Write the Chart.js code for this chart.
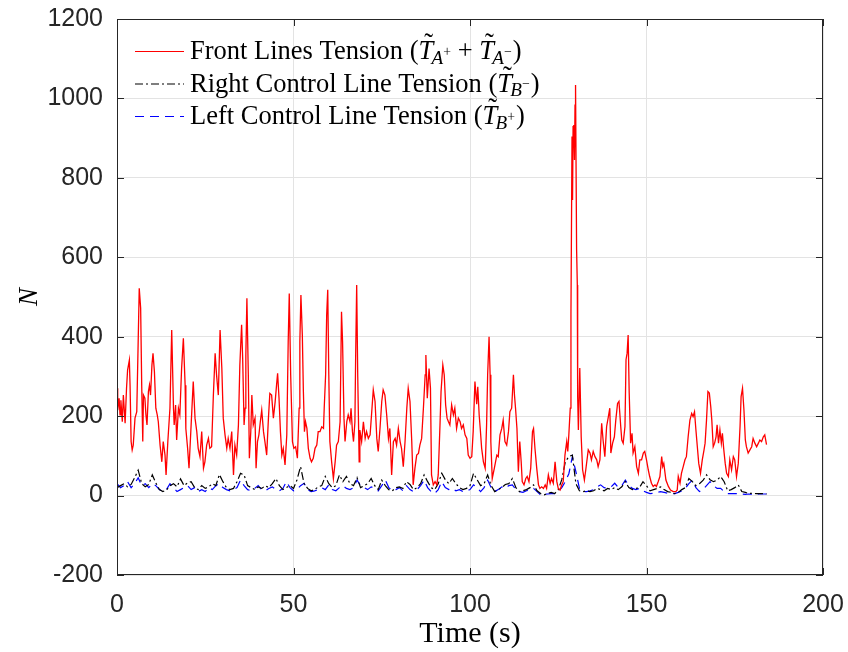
<!DOCTYPE html>
<html>
<head>
<meta charset="utf-8">
<script src="https://cdn.jsdelivr.net/npm/chart.js@4.4.1/dist/chart.umd.min.js"></script>
<style>
  body { margin: 0; background: #fff; }
  canvas { display: block; }
</style>
</head>
<body>
<canvas id="tensionChart" width="848" height="652"></canvas>
<script>
// Front lines tension as (time, N) pairs
const frontTime = [0.0,0.2,0.6,0.85,1.1,1.5,1.8,2.3,2.7,3.0,3.5,3.7,4.0,4.3,4.6,5.1,5.6,6.0,6.3,6.7,7.0,7.3,7.5,7.9,8.2,8.5,8.9,9.2,9.5,9.9,10.2,10.6,11.0,11.4,11.7,12.2,12.7,13.1,13.6,13.9,14.4,15.0,15.5,16.0,16.2,16.6,16.9,17.4,17.8,18.3,18.8,19.3,19.5,20.0,20.4,21.0,21.6,22.1,22.6,23.0,23.5,24.0,24.5,24.9,25.4,25.9,26.3,26.8,27.3,27.8,28.2,28.7,29.2,29.7,30.1,30.6,31.1,31.5,32.0,32.5,33.0,33.4,33.9,34.4,34.8,35.3,35.6,36.0,36.3,36.5,36.8,37.2,37.5,37.9,38.2,38.6,39.1,39.4,39.8,40.2,40.6,41.0,41.5,41.9,42.4,42.9,43.3,43.8,44.3,44.8,45.2,45.5,45.9,46.3,46.7,47.1,47.6,48.1,48.5,48.8,49.2,49.7,50.1,50.6,51.1,51.6,51.8,52.1,52.5,52.8,53.1,53.4,53.8,54.2,54.7,55.1,55.6,56.1,56.6,57.0,57.5,58.0,58.5,58.7,59.1,59.4,59.7,60.0,60.3,60.8,61.3,61.8,62.2,62.7,63.2,63.6,63.9,64.3,64.6,65.1,65.5,66.0,66.3,66.7,67.0,67.4,67.6,67.9,68.2,68.6,68.8,69.3,69.8,70.3,70.7,71.2,71.7,72.1,72.6,73.1,73.6,74.0,74.5,75.0,75.4,75.9,76.4,76.9,77.3,77.8,78.3,78.8,79.2,79.7,80.2,80.6,81.1,81.6,82.1,82.5,83.0,83.5,83.9,84.4,84.9,85.4,85.8,86.3,86.8,87.3,87.5,87.9,88.4,88.8,89.1,89.6,90.1,90.6,91.0,91.5,91.8,92.3,92.7,93.1,93.5,93.9,94.3,94.8,95.3,95.7,96.2,96.7,97.2,97.6,98.1,98.6,99.1,99.5,100.0,100.5,100.9,101.4,101.9,102.2,102.6,102.9,103.3,103.8,104.3,104.7,105.0,105.4,105.7,105.9,106.3,106.9,107.6,108.0,108.5,109.0,109.4,109.9,110.4,110.9,111.3,111.8,112.3,112.6,112.9,113.3,113.7,114.1,114.5,114.8,115.3,115.8,116.2,116.7,117.2,117.7,118.0,118.4,118.9,119.4,119.8,120.3,120.8,121.3,121.7,122.2,122.7,123.1,123.6,124.1,124.6,125.0,125.5,126.0,126.4,126.9,127.4,127.7,128.0,128.4,128.6,128.9,129.05,129.2,129.4,129.6,129.75,129.9,130.2,130.4,130.5,130.7,131.1,131.5,131.9,132.4,132.8,133.5,134.0,134.4,134.9,135.4,135.9,136.3,136.8,137.3,137.7,138.2,138.7,139.2,139.6,139.9,140.4,140.9,141.3,141.8,142.2,142.7,143.0,143.4,143.9,144.2,144.5,144.8,145.1,145.5,145.9,146.2,146.7,147.2,147.7,148.1,148.6,149.1,149.5,150.0,150.5,150.9,151.4,151.9,152.4,152.8,153.3,153.8,154.3,154.6,154.9,155.5,156.2,156.8,157.6,158.3,158.7,159.0,159.5,159.9,160.4,160.9,161.3,161.8,162.3,162.8,163.2,163.6,164.0,164.4,164.8,165.3,165.8,166.3,166.6,167.0,167.4,167.8,168.2,168.5,168.9,169.3,169.7,170.0,170.4,170.8,171.2,171.5,171.9,172.3,172.7,173.2,173.6,174.1,174.6,175.0,175.5,176.0,176.5,176.8,177.2,177.6,178.0,178.3,178.8,179.3,179.8,180.2,180.7,181.2,181.7,182.1,182.6,183.1,183.5,184.0];
const frontTension = [270,215,245,203,240,186,253,182,270,316,341,278,136,115,127,195,211,388,522,472,278,136,253,245,203,178,262,278,253,329,358,312,220,203,186,127,85,136,102,52,136,220,417,220,178,228,140,220,203,320,396,278,169,119,69,178,287,195,161,119,98,161,69,85,127,144,119,123,253,358,304,253,417,320,195,153,119,144,119,161,52,127,102,178,329,430,346,178,220,354,497,304,94,161,253,178,195,69,136,153,186,215,161,136,102,195,257,253,195,236,278,308,245,161,102,119,77,153,388,509,304,136,119,123,94,220,388,505,404,262,161,186,169,119,94,85,94,119,127,161,161,173,169,220,304,455,518,304,136,85,43,85,127,136,186,463,388,195,136,186,203,186,220,161,136,186,346,530,300,85,165,136,186,144,161,144,153,203,266,237,144,111,169,237,266,253,203,144,169,52,136,144,127,169,136,119,73,136,220,270,237,136,27,69,102,106,127,144,220,304,354,245,320,270,52,27,35,27,52,178,262,329,304,228,195,186,178,228,203,220,169,195,186,169,178,153,144,102,94,98,161,287,230,274,203,169,119,85,69,178,304,400,304,136,43,69,102,98,153,169,190,136,127,161,211,220,304,253,220,169,60,136,85,35,27,43,48,35,69,161,169,119,69,27,18,22,18,27,18,52,31,43,31,85,35,18,14,27,35,102,136,111,153,220,459,904,744,929,933,845,983,1034,619,530,249,165,321,148,65,39,65,115,107,90,111,98,90,73,90,182,140,98,174,199,220,107,132,148,190,232,237,174,140,132,174,342,358,404,258,132,157,107,123,73,56,90,90,107,111,90,65,48,31,23,27,23,35,48,98,73,81,39,23,14,10,10,14,48,31,56,73,90,98,148,190,207,199,211,165,123,81,56,90,115,132,190,262,258,224,190,123,132,148,178,132,165,132,157,115,81,56,48,90,65,98,90,48,81,174,249,270,216,140,123,107,115,123,144,132,123,132,140,136,148,153,128];

// Control line tensions, read once per second
const controlTime = [0,1,2,3,4,5,6,7,8,9,10,11,12,13,14,15,16,17,18,19,20,21,22,23,24,25,26,27,28,29,30,31,32,33,34,35,36,37,38,39,40,41,42,43,44,45,46,47,48,49,50,51,52,53,54,55,56,57,58,59,60,61,62,63,64,65,66,67,68,69,70,71,72,73,74,75,76,77,78,79,80,81,82,83,84,85,86,87,88,89,90,91,92,93,94,95,96,97,98,99,100,101,102,103,104,105,106,107,108,109,110,111,112,113,114,115,116,117,118,119,120,121,122,123,124,125,126,127,128,129,130,131,132,133,134,135,136,137,138,139,140,141,142,143,144,145,146,147,148,149,150,151,152,153,154,155,156,157,158,159,160,161,162,163,164,165,166,167,168,169,170,171,172,173,174,175,176,177,178,179,180,181,182,183,184];
const rightTension = [20,25,30,22,28,45,64,30,22,28,52,32,15,10,14,25,30,22,42,25,32,35,20,15,25,18,22,30,25,53,35,20,15,18,35,56,52,25,20,15,22,18,25,20,30,43,25,15,20,25,18,40,73,30,18,12,15,22,25,48,30,20,25,52,35,48,30,25,45,20,25,30,43,25,15,39,25,15,12,20,22,18,35,28,15,20,30,52,35,20,15,30,56,40,30,43,30,20,15,18,25,56,40,25,30,52,25,10,15,20,28,30,43,20,10,12,15,20,27,12,5,2,5,8,5,15,40,85,98,102,30,12,10,12,10,12,18,15,12,18,15,20,15,22,35,20,15,18,20,35,25,12,15,18,22,15,10,8,5,8,15,20,43,35,25,30,38,52,40,35,39,48,35,12,15,20,27,10,8,5,6,5,5,5,4];
const leftTension = [30,20,25,35,20,30,45,25,30,20,30,25,15,10,15,30,20,10,15,20,25,15,20,10,15,10,20,15,25,30,20,15,12,15,20,39,25,15,12,18,25,15,12,18,22,15,12,18,35,20,12,15,25,31,15,10,12,15,20,15,27,15,12,20,25,18,15,20,39,25,20,15,22,18,12,25,39,20,12,15,20,12,25,15,10,15,25,39,20,10,5,15,35,20,15,18,12,15,10,12,15,27,20,10,20,39,20,10,15,22,18,25,27,15,10,8,12,15,18,10,2,3,4,5,5,10,20,35,55,98,60,18,10,10,12,15,22,27,20,18,22,31,20,25,39,25,18,15,18,12,8,5,6,8,10,8,6,5,5,8,12,18,30,39,20,10,15,25,35,25,18,18,10,5,5,5,5,4,3,4,3,3,4,4,4];

const xTicks = [0, 50, 100, 150, 200];
const yTicks = [-200, 0, 200, 400, 600, 800, 1000, 1200];

const legendItems = [
    { color: '#ff0000', dash: [], runs: [
        { text: 'Front Lines Tension (' },
        { text: 'T', italic: true, tilde: true },
        { text: 'A', italic: true, scale: 0.72, dy: 0.17, kern: -0.07 },
        { text: '+', scale: 0.52, dy: -0.12, kern: 0.01 },
        { text: ' + ' },
        { text: 'T', italic: true, tilde: true },
        { text: 'A', italic: true, scale: 0.72, dy: 0.17, kern: -0.07 },
        { text: '\u2212', scale: 0.52, dy: -0.12, kern: 0.01 },
        { text: ')', kern: 0.03 },
    ] },
    { color: '#000000', dash: [8, 3, 2, 3], runs: [
        { text: 'Right Control Line Tension (' },
        { text: 'T', italic: true, tilde: true },
        { text: 'B', italic: true, scale: 0.72, dy: 0.17, kern: -0.07 },
        { text: '\u2212', scale: 0.52, dy: -0.12, kern: 0.01 },
        { text: ')', kern: 0.03 },
    ] },
    { color: '#0000ff', dash: [9, 6], runs: [
        { text: 'Left Control Line Tension (' },
        { text: 'T', italic: true, tilde: true },
        { text: 'B', italic: true, scale: 0.72, dy: 0.17, kern: -0.07 },
        { text: '+', scale: 0.52, dy: -0.12, kern: 0.01 },
        { text: ')', kern: 0.03 },
    ] },
];

const pairs = (xs, ys) => xs.map((x, i) => ({ x: x, y: ys[i] }));

const axisColor = '#262626';
const serif = '"Liberation Serif", "Times New Roman", serif';
const sans = '"Liberation Sans", Arial, sans-serif';

// draw a run of text pieces with sub/superscripts and tildes
function drawRuns(ctx, x, y, runs, size) {
    runs.forEach((r) => {
        const s = size * (r.scale || 1);
        x += (r.kern || 0) * size;
        ctx.font = (r.italic ? 'italic ' : '') + s + 'px ' + serif;
        const yy = y + (r.dy || 0) * size;
        ctx.fillText(r.text, x, yy);
        const w = ctx.measureText(r.text).width;
        if (r.tilde) {
            ctx.font = s + 'px ' + serif;
            ctx.textAlign = 'center';
            ctx.fillText('\u02DC', x + w * 0.5 + s * 0.1, yy - s * 0.26);
            ctx.textAlign = 'left';
        }
        x += w;
    });
}

// fixed axis box so the plot area sits where it does in the figure
const fixBox = (prop, size) => (scale) => {
    scale[prop] = size;
    scale.paddingTop = 0;
    scale.paddingBottom = 0;
    scale.paddingLeft = 0;
    scale.paddingRight = 0;
};

const boxPlugin = {
    id: 'matlabBox',
    afterDraw(chart) {
        const { ctx, chartArea, scales } = chart;
        const { left, right, top, bottom } = chartArea;
        const tickLen = 7;
        ctx.save();
        ctx.strokeStyle = axisColor;
        ctx.lineWidth = 1;
        ctx.strokeRect(left + 0.5, top + 0.5, right - left - 1, bottom - top - 1);
        ctx.beginPath();
        xTicks.forEach((v) => {
            const px = Math.round(scales.x.getPixelForValue(v)) + 0.5;
            ctx.moveTo(px, bottom); ctx.lineTo(px, bottom - tickLen);
            ctx.moveTo(px, top); ctx.lineTo(px, top + tickLen);
        });
        yTicks.forEach((v) => {
            const py = Math.round(scales.y.getPixelForValue(v)) + 0.5;
            ctx.moveTo(left, py); ctx.lineTo(left + tickLen, py);
            ctx.moveTo(right, py); ctx.lineTo(right - tickLen, py);
        });
        ctx.stroke();

        // legend, no box, top-left inside axes
        const size = 26.5;
        legendItems.forEach((item, i) => {
            const cy = top + 32 + i * 32.5;
            ctx.strokeStyle = item.color;
            ctx.lineWidth = 1.2;
            ctx.setLineDash(item.dash);
            ctx.beginPath();
            ctx.moveTo(left + 18, cy + 0.5);
            ctx.lineTo(left + 67, cy + 0.5);
            ctx.stroke();
            ctx.setLineDash([]);
            ctx.fillStyle = '#000';
            ctx.textBaseline = 'alphabetic';
            ctx.textAlign = 'left';
            drawRuns(ctx, left + 73, cy + 8, item.runs, size);
        });
        ctx.restore();
    },
};

const ctx = document.getElementById('tensionChart').getContext('2d');
new Chart(ctx, {
    type: 'line',
    data: {
        datasets: [
            {
                label: 'Front Lines Tension',
                data: pairs(frontTime, frontTension),
                borderColor: '#ff0000',
                borderWidth: 1.3,
            },
            {
                label: 'Right Control Line Tension',
                data: pairs(controlTime, rightTension),
                borderColor: '#000000',
                borderWidth: 1.2,
                borderDash: [8, 3, 2, 3],
            },
            {
                label: 'Left Control Line Tension',
                data: pairs(controlTime, leftTension),
                borderColor: '#0000ff',
                borderWidth: 1.2,
                borderDash: [9, 6],
            },
        ],
    },
    options: {
        responsive: false,
        animation: false,
        devicePixelRatio: 1,
        elements: { point: { radius: 0 }, line: { tension: 0 } },
        layout: { padding: { left: 0, right: 25, top: 19, bottom: 0 } },
        plugins: { legend: { display: false }, tooltip: { enabled: false } },
        scales: {
            x: {
                type: 'linear',
                min: 0,
                max: 200,
                afterBuildTicks: (scale) => { scale.ticks = xTicks.map((v) => ({ value: v })); },
                afterFit: fixBox('height', 77),
                grid: { color: '#e3e3e3', drawTicks: false },
                border: { display: false },
                ticks: {
                    padding: 15,
                    color: axisColor,
                    font: { family: sans, size: 25 },
                    callback: (v) => String(v),
                },
                title: {
                    display: true,
                    text: 'Time (s)',
                    color: '#000',
                    font: { family: serif, size: 30, lineHeight: 1.2 },
                    padding: { top: 0, bottom: 0 },
                },
            },
            y: {
                type: 'linear',
                min: -200,
                max: 1200,
                afterBuildTicks: (scale) => { scale.ticks = yTicks.map((v) => ({ value: v })); },
                afterFit: fixBox('width', 117),
                grid: { color: '#e3e3e3', drawTicks: false },
                border: { display: false },
                ticks: {
                    padding: 14,
                    color: axisColor,
                    font: { family: sans, size: 25 },
                    callback: (v) => String(v),
                },
                title: {
                    display: true,
                    text: 'N',
                    color: '#000',
                    font: { family: serif, size: 27, style: 'italic', lineHeight: 1.2 },
                    padding: { top: 14, bottom: 0 },
                },
            },
        },
    },
    plugins: [boxPlugin],
});
</script>
</body>
</html>
